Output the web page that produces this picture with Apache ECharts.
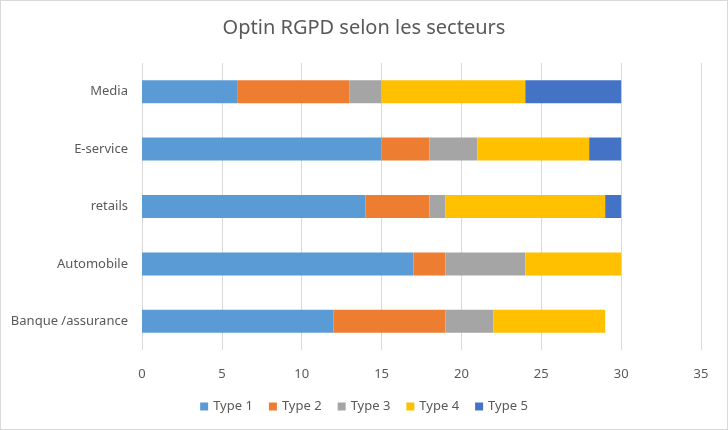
<!DOCTYPE html>
<html><head><meta charset="utf-8">
<script src="https://cdn.jsdelivr.net/npm/echarts@6/dist/echarts.min.js"></script>
<style>html,body{margin:0;padding:0;background:#fff}#c{width:726px;height:428px;border:1px solid #d9d9d9}</style>
</head><body><div id="c"></div>
<script>
const categories = ["Banque /assurance", "Automobile", "retails", "E-service", "Media"];
const seriesNames = ["Type 1", "Type 2", "Type 3", "Type 4", "Type 5"];
const type1 = [12, 17, 14, 15, 6];
const type2 = [7, 2, 4, 3, 7];
const type3 = [3, 5, 1, 3, 2];
const type4 = [7, 6, 10, 7, 9];
const type5 = [0, 0, 1, 2, 6];
const xTicks = [0, 5, 10, 15, 20, 25, 30, 35];
const colors = ["#5B9BD5", "#ED7D31", "#A5A5A5", "#FFC000", "#4472C4"];
const values = [type1, type2, type3, type4, type5];

const chart = echarts.init(document.getElementById('c'));
const font = '"Noto Sans", sans-serif';
chart.setOption({
  animation: false,
  color: colors,
  title: {text: 'Optin RGPD selon les secteurs', left: 'center', top: 12,
    textStyle: {color: '#595959', fontSize: 20, fontWeight: 'normal', fontFamily: font}},
  legend: {bottom: 11, left: 'center', itemWidth: 8, itemHeight: 8, itemGap: 16, icon: 'rect',
    textStyle: {color: '#595959', fontSize: 13, fontFamily: font}, data: seriesNames},
  grid: {left: 141, right: 26, top: 62, bottom: 79},
  xAxis: {type: 'value', min: xTicks[0], max: xTicks[xTicks.length - 1], interval: 5,
    axisLine: {show: false}, axisTick: {show: false},
    splitLine: {lineStyle: {color: '#d9d9d9', width: 1}},
    axisLabel: {color: '#595959', fontSize: 13, fontFamily: font, margin: 18}},
  yAxis: {type: 'category', data: categories,
    axisLine: {show: false}, axisTick: {show: false},
    axisLabel: {color: '#595959', fontSize: 13, fontFamily: font, margin: 14}},
  series: seriesNames.map((n, i) => ({name: n, type: 'bar', stack: 'all', barWidth: '40%',
    data: values[i]}))
});
</script></body></html>
